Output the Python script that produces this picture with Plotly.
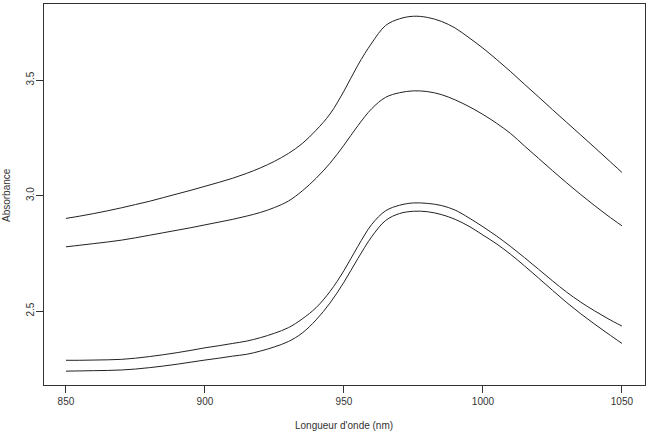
import plotly.graph_objects as go

wavelength = [850, 855, 860, 865, 870, 875, 880, 885, 890, 895, 900, 905, 910, 915, 920,
              925, 930, 935, 940, 945, 950, 955, 960, 965, 970, 975, 980, 985, 990, 995,
              1000, 1005, 1010, 1015, 1020, 1025, 1030, 1035, 1040, 1045, 1050]

spectrum_1 = [2.901, 2.911, 2.922, 2.934, 2.947, 2.961, 2.975, 2.991, 3.007, 3.023, 3.040,
              3.057, 3.075, 3.096, 3.120, 3.148, 3.182, 3.225, 3.283, 3.353, 3.452, 3.564,
              3.660, 3.736, 3.765, 3.776, 3.771, 3.754, 3.725, 3.683, 3.638, 3.588, 3.536,
              3.481, 3.427, 3.372, 3.318, 3.264, 3.210, 3.155, 3.100]
spectrum_2 = [2.778, 2.785, 2.792, 2.799, 2.807, 2.817, 2.828, 2.839, 2.850, 2.861, 2.873,
              2.885, 2.897, 2.911, 2.927, 2.948, 2.976, 3.020, 3.075, 3.140, 3.218, 3.302,
              3.376, 3.425, 3.445, 3.453, 3.450, 3.437, 3.414, 3.385, 3.351, 3.312, 3.268,
              3.214, 3.161, 3.108, 3.056, 3.006, 2.958, 2.912, 2.869]
spectrum_3 = [2.287, 2.287, 2.288, 2.289, 2.291, 2.296, 2.303, 2.311, 2.320, 2.330, 2.341,
              2.350, 2.360, 2.370, 2.385, 2.404, 2.428, 2.466, 2.515, 2.585, 2.675, 2.780,
              2.875, 2.934, 2.958, 2.968, 2.966, 2.957, 2.937, 2.903, 2.865, 2.824, 2.779,
              2.731, 2.681, 2.631, 2.583, 2.540, 2.502, 2.467, 2.435]
spectrum_4 = [2.240, 2.241, 2.242, 2.243, 2.245, 2.249, 2.255, 2.262, 2.270, 2.279, 2.288,
              2.296, 2.305, 2.313, 2.327, 2.345, 2.368, 2.405, 2.462, 2.535, 2.625, 2.727,
              2.822, 2.892, 2.922, 2.932, 2.930, 2.918, 2.897, 2.867, 2.829, 2.790, 2.745,
              2.695, 2.643, 2.590, 2.538, 2.490, 2.445, 2.402, 2.360]

x_ticks = [850, 900, 950, 1000, 1050]
y_ticks = [2.5, 3.0, 3.5]
y_tick_labels = ["2.5", "3.0", "3.5"]

FONT = "Liberation Sans, Arial, sans-serif"

fig = go.Figure()
for s in [spectrum_1, spectrum_2, spectrum_3, spectrum_4]:
    fig.add_trace(go.Scatter(x=wavelength, y=s, mode="lines",
                             line=dict(color="#222222", width=1, shape="spline", smoothing=1),
                             showlegend=False, hoverinfo="skip"))

axis_common = dict(showline=True, linecolor="#333333", linewidth=1, mirror=True,
                   ticks="outside", ticklen=7, tickcolor="#333333", tickwidth=1,
                   showgrid=False, zeroline=False,
                   tickfont=dict(family=FONT, size=10, color="#333333"))

plot_left, plot_right, plot_top, plot_bottom = 44, 645, 4, 385
pw = plot_right - plot_left
ph = plot_bottom - plot_top

fig.update_layout(
    width=647, height=436,
    margin=dict(l=plot_left, r=647 - plot_right, t=plot_top, b=436 - plot_bottom),
    paper_bgcolor="white", plot_bgcolor="white",
    xaxis=dict(range=[842.1, 1058.3], tickvals=x_ticks,
               ticktext=[str(v) for v in x_ticks], **axis_common),
    yaxis=dict(range=[2.180, 3.829], tickvals=y_ticks, ticktext=y_tick_labels,
               tickangle=-90, ticklabelstandoff=-2, **axis_common),
    annotations=[
        dict(text="Longueur d'onde (nm)", xref="paper", yref="paper",
             x=(344 - plot_left) / pw, y=(plot_bottom - 425) / ph,
             xanchor="center", yanchor="middle", showarrow=False,
             font=dict(family=FONT, size=10, color="#333333")),
        dict(text="Absorbance", textangle=-90, xref="paper", yref="paper",
             x=(7 - plot_left) / pw, y=(plot_bottom - 195) / ph,
             xanchor="center", yanchor="middle", showarrow=False,
             font=dict(family=FONT, size=10, color="#333333")),
    ],
)

fig.write_html("out.html")
